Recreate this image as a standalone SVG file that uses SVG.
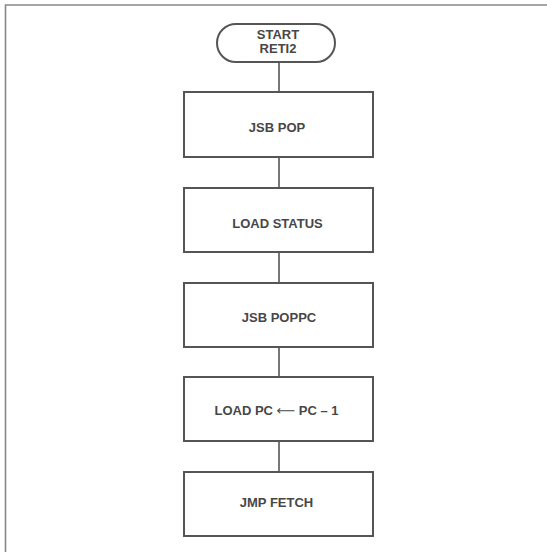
<svg xmlns="http://www.w3.org/2000/svg" width="547" height="552" viewBox="0 0 547 552">
<style>
.shape{fill:none;stroke:#555;stroke-width:2}
.frame{fill:none;stroke:#888;stroke-width:1.6}
.lbl{font-family:"Liberation Sans",Arial,sans-serif;font-weight:bold;font-size:13px;fill:#474747;text-anchor:middle}
.conn{stroke:#555;stroke-width:1.6;fill:none}
</style>
<rect width="547" height="552" fill="#fff"/>
<path class="frame" d="M5.5,552 V5 H547"/>
<g id="connectors">
<line class="conn" x1="279" y1="62" x2="279" y2="92"/>
<line class="conn" x1="279" y1="157" x2="279" y2="188"/>
<line class="conn" x1="279" y1="252" x2="279" y2="283"/>
<line class="conn" x1="279" y1="347" x2="279" y2="377"/>
<line class="conn" x1="279" y1="441" x2="279" y2="472"/>
</g>
<g id="start">
<rect class="shape" x="217" y="24" width="118" height="38" rx="19" ry="19"/>
<text class="lbl" x="278" y="38.5">START</text>
<text class="lbl" x="278" y="53">RETI2</text>
</g>
<g id="jsb-pop">
<rect class="shape" x="184" y="92" width="189" height="65"/>
<text class="lbl" x="277" y="132">JSB POP</text>
</g>
<g id="load-status">
<rect class="shape" x="184" y="188" width="189" height="64"/>
<text class="lbl" x="277.5" y="228">LOAD STATUS</text>
</g>
<g id="jsb-poppc">
<rect class="shape" x="184" y="283" width="189" height="64"/>
<text class="lbl" x="279" y="322">JSB POPPC</text>
</g>
<g id="load-pc">
<rect class="shape" x="184" y="377" width="189" height="64"/>
<text class="lbl" x="276.5" y="415">LOAD PC <tspan font-family="DejaVu Sans" font-weight="normal">⟵</tspan> PC – 1</text>
</g>
<g id="jmp-fetch">
<rect class="shape" x="184" y="472" width="189" height="64"/>
<text class="lbl" x="276.5" y="507">JMP FETCH</text>
</g>
</svg>
